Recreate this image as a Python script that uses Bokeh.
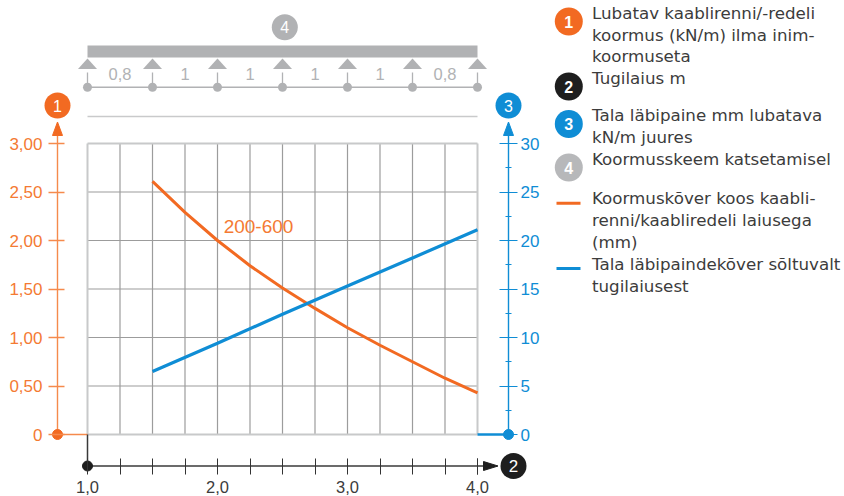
from bokeh.plotting import figure
from bokeh.models import Range1d, LinearAxis, FixedTicker
from bokeh.core.properties import value
from bokeh.embed import file_html
from bokeh.resources import INLINE

# ---------------- data ----------------
span_x = [1.5, 1.75, 2.0, 2.25, 2.5, 2.75, 3.0, 3.25, 3.5, 3.75, 4.0]
load_kn = [2.61, 2.29, 2.00, 1.74, 1.51, 1.30, 1.10, 0.92, 0.75, 0.58, 0.43]
defl_x = [1.5, 2.0, 2.5, 3.0, 3.5, 4.0]
defl_mm = [6.5, 9.4, 12.4, 15.3, 18.2, 21.1]
curve_label = "200-600"

left_ticks = [0, 0.5, 1.0, 1.5, 2.0, 2.5, 3.0]
left_labels = ["0", "0,50", "1,00", "1,50", "2,00", "2,50", "3,00"]
right_ticks = [0, 5, 10, 15, 20, 25, 30]
right_minor = [2.5, 7.5, 12.5, 17.5, 22.5, 27.5]
x_ticks = [1, 2, 3, 4]
x_labels = ["1,0", "2,0", "3,0", "4,0"]
x_minor = [1.25, 1.5, 1.75, 2.25, 2.5, 2.75, 3.25, 3.5, 3.75, 4.0]
grid_x = [1.0, 1.25, 1.5, 1.75, 2.0, 2.25, 2.5, 2.75, 3.0, 3.25, 3.5, 3.75, 4.0]
grid_y = [0, 0.5, 1.0, 1.5, 2.0, 2.5, 3.0]

supports = [1.0, 1.5, 2.0, 2.5, 3.0, 3.5, 4.0]
span_mid = [1.25, 1.75, 2.25, 2.75, 3.25, 3.75]
span_lengths = ["0,8", "1", "1", "1", "1", "0,8"]

legend_badges = ["1", "2", "3", "4"]
legend_lines = [
    "Lubatav kaablirenni/-redeli",
    "koormus (kN/m) ilma inim-",
    "koormuseta",
    "Tugilaius m",
    "Tala läbipaine mm lubatava",
    "kN/m juures",
    "Koormusskeem katsetamisel",
    "Koormuskõver koos kaabli-",
    "renni/kaabliredeli laiusega",
    "(mm)",
    "Tala läbipaindekõver sõltuvalt",
    "tugilaiusest",
]

# ---------------- styling / layout ----------------
W, H = 844, 496
ORANGE = "#F26A22"
ORANGE_AX = "#F58A4C"
ORANGE_TXT = "#F47A33"
BLUE = "#0F8DD5"
DARK = "#1E1E1E"
GRAY = "#B1B2B4"
GRID_IN = "#9C9C9C"
GRID_OUT = "#C8C9CA"
TEXT = "#3C3C3C"
FONT = "Liberation Sans"
LFONT = "DejaVu Sans"

PX_X = 130.0   # px per metre
PX_Y = 97.0    # px per kN/m
X0_PAGE, Y0_PAGE = 87.0, 434.0


def X(px):
    return 1.0 + (px - X0_PAGE) / PX_X


def Y(py):
    return (Y0_PAGE - py) / PX_Y


x_start = X(0)
x_end = x_start + W / PX_X
y_end = Y(0)
y_start = y_end - H / PX_Y

p = figure(width=W, height=H, x_range=Range1d(x_start, x_end), y_range=Range1d(y_start, y_end),
           output_backend="svg", toolbar_location=None, min_border=0,
           x_axis_type=None, y_axis_type=None, outline_line_color=None)
p.extra_y_ranges = {"right": Range1d(y_start * 10, y_end * 10)}
p.background_fill_color = "white"
p.border_fill_color = "white"

XL, XR, YB = X(57), X(508), Y(465.5)

# ---------------- grid ----------------
inner_x = grid_x[1:-1]
p.segment(x0=inner_x, y0=[grid_y[0]] * len(inner_x), x1=inner_x, y1=[grid_y[-1]] * len(inner_x),
          line_color=GRID_IN, line_width=1.2)
inner_y = grid_y[1:-1]
p.segment(x0=[grid_x[0]] * len(inner_y), y0=inner_y, x1=[grid_x[-1]] * len(inner_y), y1=inner_y,
          line_color=GRID_IN, line_width=1.2)
p.segment(x0=[grid_x[0], grid_x[-1], grid_x[0], grid_x[0]],
          y0=[grid_y[0], grid_y[0], grid_y[0], grid_y[-1]],
          x1=[grid_x[0], grid_x[-1], grid_x[-1], grid_x[-1]],
          y1=[grid_y[-1], grid_y[-1], grid_y[0], grid_y[-1]],
          line_color=GRID_OUT, line_width=2)

# ---------------- axes lines (manual) ----------------
# left (orange)
p.segment(x0=[XL, XL], y0=[0, 0], x1=[XL, 1.0], y1=[Y(132), 0], line_color=ORANGE_AX, line_width=1.4)
p.patch(x=[XL - 5 / PX_X, XL + 5 / PX_X, XL], y=[Y(135), Y(135), Y(121.5)], fill_color=ORANGE, line_color=ORANGE)
p.scatter(x=[XL], y=[0], size=10, marker="circle", fill_color=ORANGE, line_color=ORANGE)
# right (blue)
p.segment(x0=[XR], y0=[0], x1=[XR], y1=[Y(132)], line_color=BLUE, line_width=1.4)
p.segment(x0=[4.0], y0=[0], x1=[XR], y1=[0], line_color=BLUE, line_width=2.5)
p.patch(x=[XR - 5 / PX_X, XR + 5 / PX_X, XR], y=[Y(135), Y(135), Y(121.5)], fill_color=BLUE, line_color=BLUE)
p.scatter(x=[XR], y=[0], size=10, marker="circle", fill_color=BLUE, line_color=BLUE)
# bottom (black)
p.segment(x0=[1.0, 1.0], y0=[0, YB], x1=[1.0, X(486)], y1=[YB, YB], line_color="#3A3A3A", line_width=1.5)
p.patch(x=[X(483), X(483), X(497.5)], y=[YB + 4.5 / PX_Y, YB - 4.5 / PX_Y, YB], fill_color=DARK, line_color=DARK)
p.scatter(x=[1.0], y=[YB], size=10, marker="circle", fill_color=DARK, line_color=DARK)

# ---------------- axes (ticks + labels) ----------------
lax = LinearAxis(fixed_location=XL, ticker=FixedTicker(ticks=left_ticks, minor_ticks=[]))
lax.major_label_overrides = {float(t): s for t, s in zip(left_ticks, left_labels)}
lax.axis_line_color = None
lax.major_tick_line_color = ORANGE_AX
lax.major_tick_line_width = 1.4
lax.major_tick_in = 7
lax.major_tick_out = 9
lax.minor_tick_line_color = None
lax.major_label_standoff = 6
lax.major_label_text_color = ORANGE_TXT
lax.major_label_text_font = FONT
lax.major_label_text_font_size = "17px"
p.add_layout(lax, "left")

rax = LinearAxis(fixed_location=XR, y_range_name="right",
                 ticker=FixedTicker(ticks=right_ticks, minor_ticks=right_minor))
rax.axis_line_color = None
rax.major_tick_line_color = BLUE
rax.major_tick_line_width = 1.2
rax.major_tick_in = 9
rax.major_tick_out = 9
rax.minor_tick_line_color = BLUE
rax.minor_tick_line_width = 1.2
rax.minor_tick_in = 3
rax.minor_tick_out = 3
rax.major_label_standoff = 3
rax.major_label_text_color = BLUE
rax.major_label_text_font = FONT
rax.major_label_text_font_size = "17px"
p.add_layout(rax, "right")

bax = LinearAxis(fixed_location=YB, ticker=FixedTicker(ticks=x_ticks, minor_ticks=x_minor))
bax.major_label_overrides = {float(t): s for t, s in zip(x_ticks, x_labels)}
bax.axis_line_color = None
bax.major_tick_line_color = "#333333"
bax.major_tick_in = 8
bax.major_tick_out = 8
bax.minor_tick_line_color = "#333333"
bax.minor_tick_in = 8
bax.minor_tick_out = 8
bax.major_label_standoff = 7
bax.major_label_text_color = TEXT
bax.major_label_text_font = FONT
bax.major_label_text_font_size = "16.5px"
p.add_layout(bax, "below")

# ---------------- data curves ----------------
p.line(x=span_x, y=load_kn, line_color=ORANGE, line_width=3)
p.line(x=defl_x, y=defl_mm, y_range_name="right", line_color=BLUE, line_width=3.2)
p.text(x=[X(258)], y=[Y(226)], text=[curve_label], text_color=ORANGE_TXT, text_font=value(FONT),
       text_font_size="19px", text_align="center", text_baseline="middle")

# ---------------- load scheme (top) ----------------
p.quad(left=[supports[0]], right=[supports[-1]], top=[Y(45)], bottom=[Y(57)], fill_color=GRAY, line_color=None)
for sx in supports:
    p.patch(x=[sx - 9.5 / PX_X, sx + 9.5 / PX_X, sx], y=[Y(68.5), Y(68.5), Y(58)], fill_color=GRAY, line_color=None)
p.segment(x0=supports, y0=[Y(72)] * len(supports), x1=supports, y1=[Y(86)] * len(supports),
          line_color=GRAY, line_width=1.3)
p.segment(x0=[supports[0]], y0=[Y(86.7)], x1=[supports[-1]], y1=[Y(86.7)], line_color=GRAY, line_width=1.4)
p.scatter(x=supports, y=[Y(86.7)] * len(supports), size=9, marker="circle", fill_color=GRAY, line_color=None)
p.text(x=span_mid, y=[Y(73.5)] * len(span_mid), text=span_lengths, text_color=GRAY, text_font=value(FONT),
       text_font_size="16.5px", text_align="center", text_baseline="middle")
p.segment(x0=[supports[0]], y0=[Y(116)], x1=[supports[-1]], y1=[Y(116)], line_color="#C9CACB", line_width=1.5)

# chart badges
p.scatter(x=[X(284.3), XL, XR], y=[Y(26.7), Y(105), Y(105)], size=26, marker="circle",
          fill_color=[GRAY, ORANGE, BLUE], line_color=None)
p.text(x=[X(284.3), XL, XR], y=[Y(26.7), Y(105), Y(105)],
       text=[legend_badges[3], legend_badges[0], legend_badges[2]], text_color="white",
       text_font=value(FONT), text_font_size="16px", text_align="center", text_baseline="middle")
# axis 2 badge
p.scatter(x=[X(513)], y=[YB], size=26, marker="circle", fill_color=DARK, line_color=None)
p.text(x=[X(513)], y=[YB], text=[legend_badges[1]], text_color="white",
       text_font=value(FONT), text_font_size="17px", text_align="center", text_baseline="middle")

# ---------------- legend ----------------
LX = X(568.3)
badge_y = [Y(21), Y(86), Y(123.5), Y(167)]
p.scatter(x=[LX] * 4, y=badge_y, size=28, marker="circle",
          fill_color=[ORANGE, DARK, BLUE, "#B7B8BA"], line_color=None)
p.text(x=[LX] * 4, y=badge_y, text=legend_badges, text_color="white",
       text_font=value(FONT), text_font_size="16px", text_font_style="bold",
       text_align="center", text_baseline="middle")
centers = [12.2, 34.0, 55.8, 77.6, 114.5, 136.5, 158.8, 197.8, 219.6, 241.4, 263.2, 285.0]
p.text(x=[X(591.5)] * len(legend_lines), y=[Y(c) for c in centers], text=legend_lines,
       text_color=TEXT, text_font=value(LFONT), text_font_size="16.7px",
       text_align="left", text_baseline="middle")
p.segment(x0=[X(556), X(556)], y0=[Y(202.7), Y(268)], x1=[X(580), X(580)], y1=[Y(202.7), Y(268)],
          line_color=[ORANGE, BLUE], line_width=3)

open("out.html", "w").write(file_html(p, INLINE))
